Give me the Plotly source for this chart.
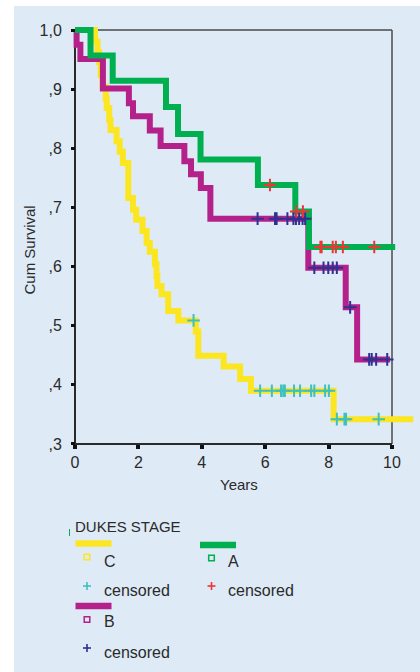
import numpy as np
import plotly.graph_objects as go

# Kaplan-Meier survival by Dukes stage: step times (years) and survival after each step
stage_a_times = [0.49, 1.19, 2.87, 3.25, 3.96, 5.77, 6.95, 7.38]
stage_a_surv = [0.957, 0.914, 0.870, 0.824, 0.781, 0.738, 0.693, 0.633]
stage_a_end = 10.1
stage_a_censored = [6.15, 6.98, 7.19, 7.74, 7.78, 8.13, 8.23, 8.45, 9.44]

stage_b_times = [0.05, 0.17, 0.88, 1.70, 1.83, 2.36, 2.70, 3.45, 3.66, 3.97,
                 4.27, 7.36, 8.54, 8.90]
stage_b_surv = [0.975, 0.951, 0.901, 0.876, 0.854, 0.830, 0.804, 0.778, 0.756,
                0.733, 0.681, 0.598, 0.531, 0.443]
stage_b_end = 9.94
stage_b_censored = [5.76, 6.31, 6.36, 6.70, 6.89, 6.97, 7.07, 7.18, 7.26, 7.55,
                    7.84, 7.99, 8.13, 8.26, 8.68, 9.28, 9.36, 9.50, 9.85]

stage_c_times = [0.63, 0.71, 0.76, 0.81, 0.87, 0.97, 1.00, 1.08, 1.12, 1.31,
                 1.41, 1.51, 1.68, 1.83, 1.93, 2.13, 2.26, 2.36, 2.52, 2.57,
                 2.60, 2.73, 2.94, 3.26, 3.81, 3.89, 4.69, 5.21, 5.55, 8.16]
stage_c_surv = [0.980, 0.963, 0.946, 0.924, 0.904, 0.884, 0.868, 0.848, 0.831,
                0.812, 0.794, 0.775, 0.716, 0.696, 0.679, 0.660, 0.640, 0.625,
                0.604, 0.584, 0.567, 0.553, 0.525, 0.509, 0.490, 0.449, 0.431,
                0.410, 0.390, 0.342]
stage_c_end = 10.67
stage_c_censored = [3.74, 5.84, 6.21, 6.50, 6.57, 6.62, 6.91, 7.10, 7.45, 7.55,
                    7.89, 8.01, 8.26, 8.50, 8.55, 9.58]

y_tick_vals = [0.3, 0.4, 0.5, 0.6, 0.7, 0.8, 0.9, 1.0]
y_tick_text = [",3", ",4", ",5", ",6", ",7", ",8", ",9", "1,0"]
x_tick_vals = [0, 2, 4, 6, 8, 10]
x_tick_text = ["0", "2", "4", "6", "8", "10"]

GREEN = "#00b050"
MAGENTA = "#b5218b"
YELLOW = "#fce622"
RED = "#ee3535"
NAVY = "#2e3192"
TEAL = "#3cc0c4"
PANEL = "#deeaf6"
INK = "#2a2a2a"
FONT = "Liberation Sans, Arial, sans-serif"

W, H = 420, 672
ML, MR, MT, MB = 69, 3, 24, 222
PLOT_W, PLOT_H = W - ML - MR, H - MT - MB
PX_PER_YEAR = 31.7
PX_PER_UNIT = 591.4
X0_PX, Y1_PX = 75, 30

x_range = [-(X0_PX - ML) / PX_PER_YEAR, (W - MR - X0_PX) / PX_PER_YEAR]
y_range = [1.0 - (H - MB - Y1_PX) / PX_PER_UNIT, 1.0 + (Y1_PX - MT) / PX_PER_UNIT]


def px(x):
    return (x - ML) / PLOT_W


def py(y):
    return (H - MB - y) / PLOT_H


def step_xy(times, surv, end):
    return [0.0] + list(times) + [end], [1.0] + list(surv) + [surv[-1]]


def level_at(times, surv, t):
    idx = np.searchsorted(np.asarray(times), np.asarray(t), side="right") - 1
    levels = np.concatenate([[1.0], surv])
    return levels[idx + 1]


fig = go.Figure()

groups = [
    ("C", stage_c_times, stage_c_surv, stage_c_end, stage_c_censored, YELLOW, TEAL),
    ("B", stage_b_times, stage_b_surv, stage_b_end, stage_b_censored, MAGENTA, NAVY),
    ("A", stage_a_times, stage_a_surv, stage_a_end, stage_a_censored, GREEN, RED),
]

for name, times, surv, end, cens, col, ccol in groups:
    xs, ys = step_xy(times, surv, end)
    fig.add_trace(go.Scatter(
        x=xs, y=ys, mode="lines", line=dict(color=col, width=6, shape="hv"),
        name=name, showlegend=False, hoverinfo="skip",
    ))

for name, times, surv, end, cens, col, ccol in groups:
    fig.add_trace(go.Scatter(
        x=cens, y=level_at(times, surv, cens), mode="markers",
        marker=dict(symbol="cross-thin", size=9, line=dict(color=ccol, width=2)),
        name=name + " censored", showlegend=False, hoverinfo="skip",
    ))

shapes = [
    # panel background
    dict(type="rect", xref="paper", yref="paper", x0=px(14), x1=px(W + 2),
         y0=py(6), y1=py(H + 2), fillcolor=PANEL, line=dict(width=0), layer="below"),
    # plot frame
    dict(type="line", xref="x", yref="y", x0=0, x1=10, y0=1.0, y1=1.0,
         line=dict(color="#4a4a4a", width=1.6), layer="below"),
    dict(type="line", xref="x", yref="y", x0=10, x1=10, y0=0.3, y1=1.0,
         line=dict(color="#555555", width=1.6), layer="below"),
    dict(type="line", xref="x", yref="y", x0=0, x1=10, y0=0.3, y1=0.3,
         line=dict(color=INK, width=2), layer="below"),
    dict(type="line", xref="x", yref="y", x0=0, x1=0, y0=0.3, y1=1.0,
         line=dict(color=INK, width=2), layer="below"),
    # small mark beside the legend title
    dict(type="line", xref="paper", yref="paper", x0=px(69.5), x1=px(69.5),
         y0=py(529), y1=py(536), line=dict(color=GREEN, width=1)),
]

annotations = [
    dict(text="Cum Survival", x=px(28.5), y=py(250), xref="paper", yref="paper",
         textangle=-90, showarrow=False, font=dict(family=FONT, size=15, color=INK),
         xanchor="center", yanchor="middle"),
    dict(text="Years", x=px(239), y=py(484), xref="paper", yref="paper",
         showarrow=False, font=dict(family=FONT, size=15, color=INK),
         xanchor="center", yanchor="middle"),
    dict(text="DUKES STAGE", x=px(73), y=py(526), xref="paper", yref="paper",
         showarrow=False, font=dict(family=FONT, size=15, color=INK),
         xanchor="left", yanchor="middle"),
]


def legend_entry(bar_x, bar_y, sq_y, plus_y, label, label_y, cens_y, col, ccol):
    cx = bar_x + 11.5
    shapes.append(dict(type="rect", xref="paper", yref="paper",
                       x0=px(bar_x), x1=px(bar_x + 36), y0=py(bar_y - 3.2), y1=py(bar_y + 3.2),
                       fillcolor=col, line=dict(width=0)))
    shapes.append(dict(type="rect", xref="paper", yref="paper",
                       x0=px(cx - 2.8), x1=px(cx + 2.8), y0=py(sq_y - 2.8), y1=py(sq_y + 2.8),
                       fillcolor="rgba(0,0,0,0)", line=dict(color=col, width=1.5)))
    shapes.append(dict(type="line", xref="paper", yref="paper",
                       x0=px(cx - 4), x1=px(cx + 4), y0=py(plus_y), y1=py(plus_y),
                       line=dict(color=ccol, width=1.6)))
    shapes.append(dict(type="line", xref="paper", yref="paper",
                       x0=px(cx), x1=px(cx), y0=py(plus_y - 4), y1=py(plus_y + 4),
                       line=dict(color=ccol, width=1.6)))
    annotations.append(dict(text=label, x=px(bar_x + 26), y=py(label_y), xref="paper",
                            yref="paper", showarrow=False, xanchor="left", yanchor="middle",
                            font=dict(family=FONT, size=16, color=INK)))
    annotations.append(dict(text="censored", x=px(bar_x + 26), y=py(cens_y), xref="paper",
                            yref="paper", showarrow=False, xanchor="left", yanchor="middle",
                            font=dict(family=FONT, size=16, color=INK)))


legend_entry(75.5, 543.5, 557, 586, "C", 561, 590, YELLOW, TEAL)
legend_entry(75.5, 606, 619.5, 648, "B", 621, 652, MAGENTA, NAVY)
legend_entry(200, 545, 558, 586, "A", 561, 590, GREEN, RED)

fig.update_layout(
    width=W, height=H,
    margin=dict(l=ML, r=MR, t=MT, b=MB, pad=0),
    paper_bgcolor="white",
    plot_bgcolor="rgba(0,0,0,0)",
    showlegend=False,
    shapes=shapes,
    annotations=annotations,
    font=dict(family=FONT, color=INK),
    xaxis=dict(
        range=x_range, showgrid=False, zeroline=False, showline=False,
        tickvals=x_tick_vals, ticktext=x_tick_text, ticks="outside",
        ticklen=4, tickwidth=3.5, tickcolor="#111111",
        tickfont=dict(family=FONT, size=16, color=INK),
        anchor="free", position=(0.3 - y_range[0]) / (y_range[1] - y_range[0]),
        ticklabelstandoff=0,
    ),
    yaxis=dict(
        range=y_range, showgrid=False, zeroline=False, showline=False,
        tickvals=y_tick_vals, ticktext=y_tick_text, ticks="outside",
        ticklen=4, tickwidth=3, tickcolor="#111111",
        tickfont=dict(family=FONT, size=16, color=INK),
        anchor="free", position=(0 - x_range[0]) / (x_range[1] - x_range[0]),
        ticklabelstandoff=6,
    ),
)

fig.write_html("out.html")
